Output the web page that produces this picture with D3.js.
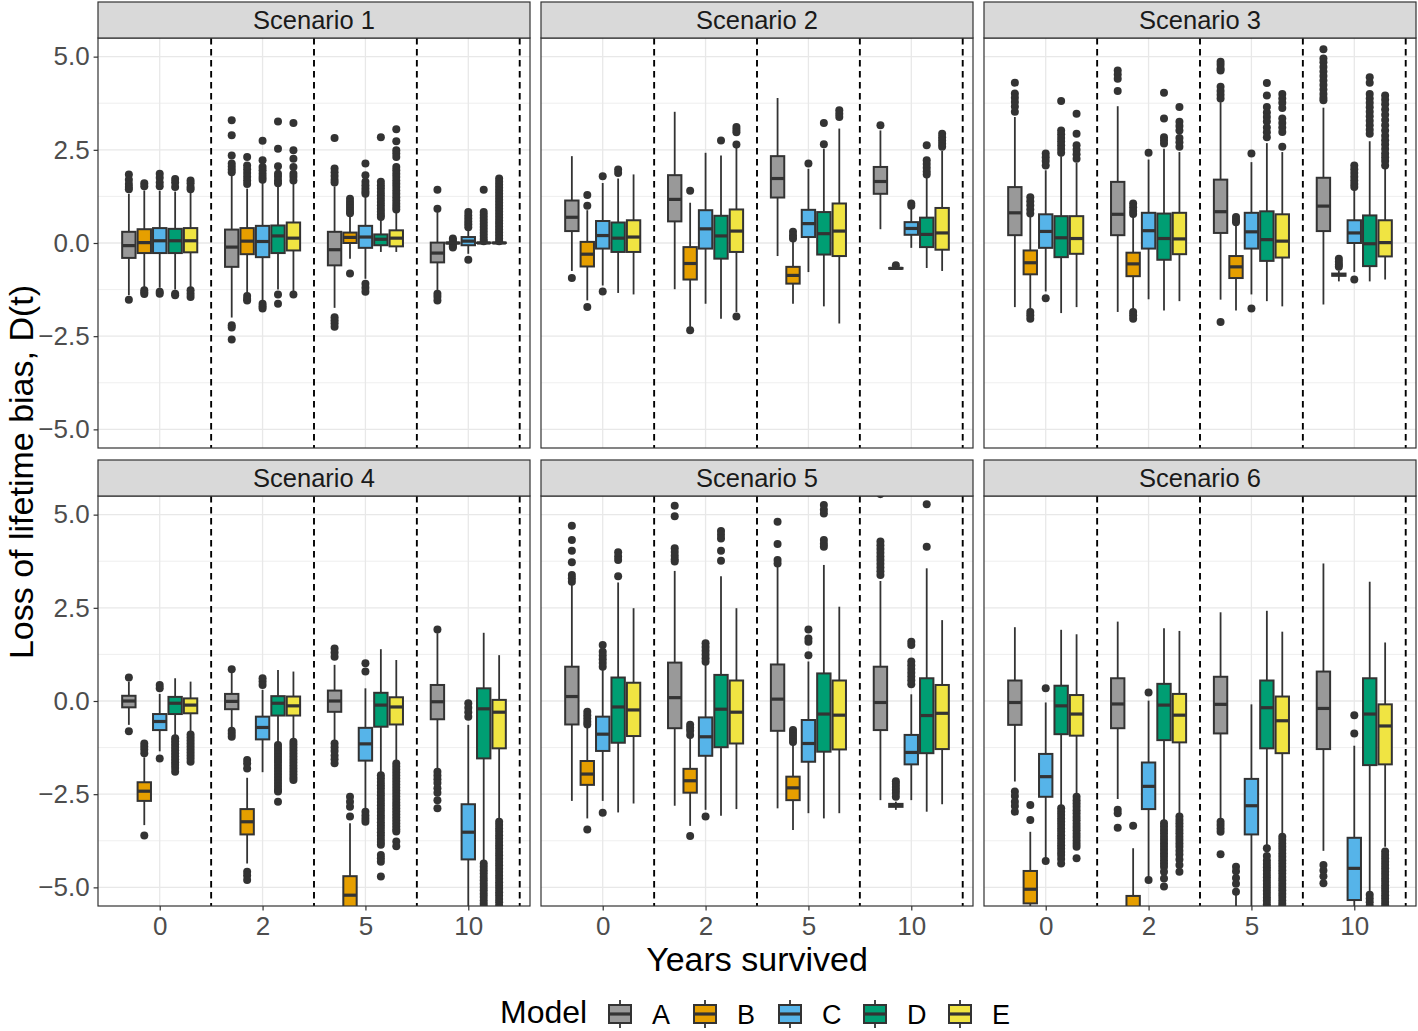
<!DOCTYPE html>
<html><head><meta charset="utf-8">
<script src="https://cdn.jsdelivr.net/npm/d3@7"></script>
<style>
body{margin:0;background:#fff}
svg{display:block}
text{font-family:"Liberation Sans",Arial,Helvetica,sans-serif}
</style>
</head><body>
<svg id="c" width="1418" height="1031"></svg>
<script>
// ---------------- DATA ----------------
const scenarios = ["Scenario 1","Scenario 2","Scenario 3","Scenario 4","Scenario 5","Scenario 6"];
const years = ["0","2","5","10"];
const models = ["A","B","C","D","E"];
const modelColors = ["#999999","#E69F00","#56B4E9","#009E73","#F0E442"];
const yTickValues = [-5,-2.5,0,2.5,5];
const yMinorValues = [-3.75,-1.25,1.25,3.75];

// each row: [lower whisker, Q1, median, Q3, upper whisker]; order: year 0 (A..E), year 2 (A..E), year 5, year 10
const s1Box = [
 [-1.40,-0.40,-0.07,0.30,1.32],[-1.23,-0.27,0.01,0.37,1.41],[-1.20,-0.27,0.06,0.40,1.40],[-1.25,-0.27,0.06,0.38,1.38],[-1.22,-0.25,0.06,0.40,1.36],
 [-2.00,-0.64,-0.11,0.36,1.82],[-1.36,-0.30,0.05,0.40,1.46],[-1.55,-0.38,0.04,0.46,1.64],[-1.25,-0.27,0.19,0.47,1.55],[-1.30,-0.20,0.13,0.55,1.59],
 [-1.74,-0.60,-0.18,0.30,1.52],[-0.42,0.00,0.15,0.28,0.74],[-0.96,-0.13,0.16,0.46,1.25],[-0.24,-0.06,0.10,0.23,0.63],[-0.24,-0.09,0.13,0.34,0.83],
 [-1.31,-0.52,-0.27,0.01,0.83],[-0.02,-0.01,0.00,0.01,0.02],[-0.29,-0.06,0.05,0.16,0.34],[-0.01,0.00,0.00,0.01,0.02],[-0.01,0.00,0.00,0.01,0.02]
];
const s1Out = [
 [1.84,1.70,1.58,1.50,1.44,-1.52],[1.60,1.52,-1.27,-1.33,-1.37],[1.86,1.75,1.62,1.52,-1.31,-1.36],[1.72,1.62,1.50,-1.36,-1.40],[1.68,1.60,1.50,1.44,-1.27,-1.36,-1.45],
 [3.29,2.89,2.35,2.13,2.05,1.97,1.90,-2.21,-2.27,-2.59],[2.31,2.08,1.98,1.88,1.78,1.68,1.58,-1.42,-1.50,-1.54],[2.74,2.22,2.04,1.95,1.86,1.77,1.70,-1.63,-1.70,-1.76],[3.26,2.53,2.06,1.86,1.78,1.68,1.60,-1.38,-1.63],[3.22,2.49,2.26,2.04,1.86,1.78,1.68,-1.38],
 [2.82,2.00,1.90,1.80,1.70,1.62,-1.99,-2.07,-2.15,-2.25],[1.19,1.10,1.02,0.94,0.86,0.80,-0.82],[2.13,1.82,1.64,1.55,1.46,1.38,1.32,-1.09,-1.20,-1.31],[2.84,1.64,1.55,1.46,1.37,1.28,1.19,1.10,1.01,0.92,0.84,0.76,0.70],[3.05,2.73,2.49,2.40,2.31,2.04,1.95,1.86,1.77,1.68,1.59,1.50,1.41,1.32,1.23,1.14,1.05,0.97,0.90],
 [1.43,0.92,-1.36,-1.44,-1.54],[0.12,0.08,0.04,-0.05,-0.09,-0.12],[0.83,0.74,0.66,0.58,0.50,0.42,-0.45],[1.43,0.83,0.75,0.67,0.59,0.51,0.43,0.35,0.27,0.19,0.11,0.05],[1.73,1.64,1.56,1.48,1.40,1.32,1.24,1.16,1.08,1.00,0.92,0.84,0.76,0.68,0.60,0.52,0.44,0.36,0.28,0.20,0.12,0.05]
];

const s2Box = [
 [-0.75,0.32,0.69,1.14,2.33],[-1.54,-0.63,-0.30,0.03,0.88],[-1.14,-0.15,0.20,0.59,1.61],[-1.34,-0.24,0.13,0.55,1.73],[-1.38,-0.24,0.16,0.61,1.84],
 [-1.24,0.58,1.17,1.82,3.52],[-2.25,-0.98,-0.55,-0.11,1.08],[-1.63,-0.15,0.38,0.88,2.42],[-2.03,-0.42,0.19,0.73,2.35],[-1.85,-0.24,0.32,0.90,2.55],
 [-0.35,1.22,1.73,2.33,3.89],[-1.63,-1.09,-0.87,-0.64,0.05],[-0.78,0.16,0.52,0.89,1.99],[-1.70,-0.31,0.25,0.83,2.53],[-2.16,-0.35,0.32,1.06,3.07],
 [0.37,1.32,1.65,2.04,3.02],[-0.70,-0.69,-0.68,-0.67,-0.66],[-0.13,0.22,0.39,0.56,0.92],[-0.67,-0.11,0.23,0.68,1.77],[-0.75,-0.18,0.27,0.94,2.47]
];
const s2Out = [
 [-0.94],[1.29,1.00,-1.72],[1.79,-1.30],[1.97,1.88],[],
 [],[1.40,-2.34],[],[2.75],[3.11,3.04,2.97,2.64,-1.97],
 [],[0.30,0.20,0.12],[2.13],[3.22,2.65],[3.56,3.47,3.38],
 [3.16],[-0.60],[1.06,1.00],[2.62,2.22,2.12,2.02,1.92,1.84],[2.93,2.84,2.75,2.66,2.58]
];

const s3Box = [
 [-1.72,0.21,0.81,1.50,3.38],[-1.80,-0.84,-0.53,-0.20,0.70],[-1.30,-0.13,0.31,0.77,1.95],[-1.88,-0.38,0.14,0.72,2.33],[-1.72,-0.29,0.12,0.72,2.15],
 [-1.85,0.21,0.77,1.64,3.67],[-1.80,-0.89,-0.56,-0.26,0.70],[-1.51,-0.15,0.33,0.81,2.24],[-1.81,-0.45,0.12,0.79,2.53],[-1.56,-0.30,0.11,0.81,2.44],
 [-1.52,0.27,0.84,1.70,3.78],[-1.81,-0.94,-0.64,-0.35,0.52],[-1.38,-0.15,0.30,0.81,2.17],[-1.56,-0.48,0.09,0.85,2.68],[-1.70,-0.39,0.05,0.77,2.44],
 [-1.65,0.32,0.99,1.75,3.63],[-1.03,-0.88,-0.85,-0.82,-0.74],[-0.78,0.00,0.27,0.61,1.43],[-1.03,-0.62,-0.02,0.74,2.73],[-0.98,-0.36,0.01,0.61,1.99]
];
const s3Out = [
 [4.30,4.01,3.90,3.78,3.66,3.52],[1.23,1.12,1.01,0.90,0.79,-1.85,-1.94,-2.03],[2.40,2.30,2.20,2.08,-1.48],[3.81,3.02,2.92,2.82,2.72,2.62,2.52,2.42],[3.47,2.93,2.62,2.50,2.38,2.26],
 [4.63,4.52,4.41,4.08],[1.06,0.96,0.86,0.78,-1.85,-1.94,-2.03],[2.42],[4.03,3.34,2.84,2.76,2.67],[3.65,3.25,3.14,3.02,2.82,2.70,2.58],
 [4.86,4.78,4.68,4.63,4.19,4.08,3.98,3.88,-2.12],[0.70,0.62,0.56],[2.40,-1.76],[4.29,3.96,3.65,3.50,3.38,3.26,3.10,2.97,2.84],[4.00,3.88,3.76,3.62,3.34,3.22,3.10,2.98,2.58],
 [5.20,4.95,4.85,4.72,4.60,4.48,4.36,4.24,4.12,4.00,3.90,3.83],[-0.42,-0.50,-0.58,-0.64],[2.08,1.98,1.88,1.78,1.68,1.58,1.50,-0.98],[4.45,4.30,4.00,3.88,3.76,3.64,3.52,3.40,3.28,3.16,3.04,2.93],[3.96,3.84,3.72,3.58,3.44,3.30,3.16,3.02,2.88,2.76,2.64,2.52,2.40,2.30,2.20,2.08]
];

const s4Box = [
 [-0.64,-0.17,0.00,0.14,0.52],[-3.33,-2.68,-2.42,-2.18,-1.51],[-1.35,-0.78,-0.55,-0.35,0.19],[-0.96,-0.35,-0.06,0.11,0.61],[-0.87,-0.33,-0.11,0.07,0.52],
 [-0.72,-0.22,-0.01,0.19,0.80],[-4.36,-3.58,-3.24,-2.90,-2.06],[-1.91,-1.03,-0.71,-0.42,0.30],[-1.14,-0.39,-0.06,0.13,0.83],[-1.05,-0.39,-0.13,0.12,0.79],
 [-1.05,-0.29,0.00,0.28,0.97],[-7.00,-5.80,-5.21,-4.70,-3.28],[-2.92,-1.60,-1.15,-0.72,0.34],[-1.94,-0.69,-0.11,0.22,1.39],[-1.63,-0.63,-0.16,0.10,1.10],
 [-1.81,-0.49,-0.02,0.43,1.82],[-8.00,-7.50,-7.00,-6.50,-6.00],[-6.50,-4.25,-3.52,-2.77,-0.64],[-4.31,-1.54,-0.21,0.34,1.83],[-3.15,-1.27,-0.30,0.03,1.23]
];
const s4Out = [
 [0.63,-0.81],[-1.14,-1.22,-1.30,-1.40,-3.61],[0.43,0.34,-1.54],[-1.00,-1.08,-1.16,-1.24,-1.32,-1.40,-1.48,-1.56,-1.64,-1.72,-1.80,-1.90],[-0.90,-0.98,-1.06,-1.14,-1.22,-1.30,-1.38,-1.46,-1.54,-1.63],
 [0.85,-0.80,-0.88,-0.96],[-1.58,-1.68,-1.81,-4.58,-4.68,-4.80],[0.61,0.52,0.43],[-1.18,-1.26,-1.34,-1.42,-1.50,-1.58,-1.66,-1.74,-1.82,-1.90,-1.98,-2.06,-2.14,-2.22,-2.30,-2.38,-2.43,-2.70],[-1.09,-1.17,-1.25,-1.33,-1.41,-1.49,-1.57,-1.65,-1.73,-1.81,-1.89,-1.97,-2.05,-2.12],
 [1.41,1.30,1.19,-1.14,-1.24,-1.34,-1.46,-1.56,-1.67],[-2.57,-2.70,-2.84,-3.10],[1.01,0.79,-2.97,-3.07,-3.16,-3.24],[-1.99,-2.08,-2.17,-2.26,-2.35,-2.44,-2.53,-2.62,-2.71,-2.80,-2.89,-2.98,-3.07,-3.16,-3.25,-3.34,-3.43,-3.52,-3.61,-3.70,-3.78,-3.86,-4.13,-4.22,-4.31,-4.71],[-1.68,-1.76,-1.84,-1.92,-2.00,-2.08,-2.16,-2.24,-2.32,-2.40,-2.48,-2.56,-2.64,-2.72,-2.80,-2.88,-2.96,-3.04,-3.12,-3.20,-3.28,-3.36,-3.44,-3.50,-3.77,-3.90],
 [1.92,-1.90,-2.00,-2.10,-2.20,-2.34,-2.46,-2.66,-2.88],[],[-0.06,-0.18,-0.30,-0.42],[-4.36,-4.45,-4.54,-4.63,-4.72,-4.81,-4.90,-4.99,-5.08,-5.17,-5.26,-5.35,-5.44,-5.53,-5.62],[-3.24,-3.33,-3.42,-3.51,-3.60,-3.69,-3.78,-3.87,-3.96,-4.05,-4.14,-4.23,-4.32,-4.41,-4.50,-4.59,-4.68,-4.77,-4.86,-4.95,-5.04,-5.13,-5.22,-5.31,-5.40,-5.49,-5.58]
];

const s5Box = [
 [-2.68,-0.63,0.12,0.92,3.13],[-3.15,-2.25,-1.96,-1.61,-0.69],[-2.68,-1.34,-0.89,-0.42,0.88],[-2.99,-1.12,-0.16,0.63,3.18],[-2.75,-0.94,-0.24,0.49,2.49],
 [-2.81,-0.73,0.09,1.03,3.49],[-3.35,-2.46,-2.14,-1.82,-0.98],[-2.92,-1.47,-0.96,-0.44,0.98],[-3.08,-1.24,-0.22,0.70,3.35],[-2.90,-1.14,-0.30,0.55,2.49],
 [-2.88,-0.80,0.05,0.98,3.60],[-3.46,-2.66,-2.33,-2.03,-1.18],[-3.01,-1.63,-1.14,-0.51,1.06],[-3.15,-1.36,-0.35,0.74,3.65],[-3.01,-1.30,-0.38,0.55,2.53],
 [-2.66,-0.78,-0.04,0.92,3.22],[-2.92,-2.84,-2.80,-2.76,-2.70],[-2.66,-1.70,-1.38,-0.91,0.18],[-2.97,-1.40,-0.39,0.61,3.56],[-2.77,-1.29,-0.33,0.43,2.17]
];
const s5Out = [
 [4.70,4.32,4.03,3.72,3.38,3.29,3.20],[-0.29,-0.38,-0.47,-0.56,-0.63,-3.45],[1.50,1.32,1.22,1.12,1.02,0.92,-3.00],[3.99,3.88,3.78,3.35],[],
 [5.24,4.96,4.10,4.00,3.90,3.80,3.74],[-0.64,-0.72,-0.80,-0.91,-3.62],[1.55,1.45,1.35,1.25,1.15,1.05,-3.10],[4.56,4.46,4.36,4.03,3.76],[],
 [4.81,4.21,3.78,3.69],[-0.78,-0.86,-0.94,-1.02,-1.10],[1.92,1.68,1.59,1.23],[5.26,5.13,5.03,4.32,4.22,4.14],[],
 [5.55,4.28,4.18,4.08,3.98,3.88,3.78,3.68,3.58,3.48,3.38],[-2.15,-2.23,-2.31,-2.39,-2.47,-2.57],[1.59,1.50,1.06,0.96,0.86,0.76,0.66,0.56,0.45],[5.28,4.14],[]
];

const s6Box = [
 [-2.16,-0.64,-0.04,0.55,1.98],[-7.00,-5.43,-5.05,-4.56,-3.51],[-4.22,-2.57,-2.03,-1.42,-0.04],[-2.79,-0.89,-0.13,0.41,1.91],[-2.52,-0.93,-0.35,0.16,1.79],
 [-2.63,-0.73,-0.08,0.61,2.13],[-7.00,-6.20,-5.80,-5.23,-3.95],[-4.76,-2.90,-2.29,-1.65,0.01],[-3.19,-1.05,-0.11,0.46,1.95],[-3.01,-1.11,-0.38,0.19,1.88],
 [-3.15,-0.87,-0.09,0.65,2.38],[-8.00,-7.00,-6.50,-6.00,-5.20],[-7.00,-3.58,-2.81,-2.09,-0.09],[-3.91,-1.27,-0.18,0.55,2.42],[-3.60,-1.40,-0.53,0.12,1.86],
 [-4.02,-1.29,-0.20,0.79,3.69],[-9.00,-8.50,-8.00,-7.50,-7.00],[-7.00,-5.34,-4.49,-3.67,-1.20],[-5.12,-1.72,-0.35,0.61,3.20],[-3.91,-1.70,-0.67,-0.09,1.57]
];
const s6Out = [
 [-2.43,-2.55,-2.70,-2.82,-2.97],[-2.79,-3.19],[0.34,-4.29],[-2.88,-2.97,-3.06,-3.15,-3.24,-3.33,-3.42,-3.51,-3.60,-3.69,-3.78,-3.87,-3.96,-4.05,-4.13,-4.24,-4.36],[-2.57,-2.66,-2.75,-2.84,-2.93,-3.02,-3.11,-3.20,-3.29,-3.38,-3.47,-3.56,-3.65,-3.74,-3.83,-3.91,-4.22],
 [-2.92,-3.01,-3.40],[-3.35],[0.23,-4.80],[-3.28,-3.37,-3.46,-3.55,-3.64,-3.73,-3.82,-3.91,-4.00,-4.09,-4.18,-4.27,-4.36,-4.45,-4.58,-4.76,-4.98],[-3.10,-3.19,-3.28,-3.37,-3.46,-3.55,-3.64,-3.73,-3.82,-3.91,-4.02,-4.12,-4.25,-4.40,-4.58],
 [-3.24,-3.33,-3.42,-3.51,-4.11],[-4.45,-4.57,-4.75,-4.90,-5.12],[],[-3.95,-4.16,-4.28,-4.37,-4.46,-4.55,-4.64,-4.73,-4.82,-4.91,-5.00,-5.09,-5.18,-5.27,-5.36,-5.45,-5.54],[-3.64,-3.73,-3.82,-3.91,-4.00,-4.09,-4.18,-4.27,-4.36,-4.45,-4.54,-4.63,-4.72,-4.81,-4.90,-4.99,-5.08,-5.17,-5.26,-5.35,-5.44,-5.53],
 [-4.40,-4.55,-4.70,-4.89],[],[-0.38,-0.87],[-5.20,-5.30,-5.40,-5.50],[-4.04,-4.13,-4.22,-4.31,-4.40,-4.49,-4.58,-4.67,-4.76,-4.85,-4.94,-5.03,-5.12,-5.21,-5.30,-5.39,-5.48,-5.57]
];

const boxData = [s1Box,s2Box,s3Box,s4Box,s5Box,s6Box];
const outData = [s1Out,s2Out,s3Out,s4Out,s5Out,s6Out];

// ---------------- LAYOUT ----------------
const svg = d3.select("#c");
const colX = [[98,530],[541,973],[984,1416]];
const rows = [{strip:[2,38],plot:[38,448]},{strip:[460,496],plot:[496,906]}];
const LINE = "#333333";
const fmt = d3.format(".1f");

scenarios.forEach((name, si) => {
  const col = si % 3, row = Math.floor(si / 3);
  const [x0, x1] = colX[col];
  const [y0, y1] = rows[row].plot;
  const [sy0, sy1] = rows[row].strip;
  const x = d3.scalePoint().domain(years).range([x0, x1]).padding(0.6);
  const y = d3.scaleLinear().domain([-5.5, 5.5]).range([y1, y0]);
  const step = x.step();
  const g = svg.append("g");

  g.append("rect").attr("x", x0).attr("y", y0).attr("width", x1 - x0).attr("height", y1 - y0).attr("fill", "#fff");
  // grid
  g.selectAll(".gmin").data(yMinorValues).join("line")
    .attr("x1", x0).attr("x2", x1).attr("y1", d => y(d)).attr("y2", d => y(d))
    .attr("stroke", "#ededed").attr("stroke-width", 0.9);
  g.selectAll(".gmaj").data(yTickValues).join("line")
    .attr("x1", x0).attr("x2", x1).attr("y1", d => y(d)).attr("y2", d => y(d))
    .attr("stroke", "#e8e8e8").attr("stroke-width", 1.3);
  g.selectAll(".gx").data(years).join("line")
    .attr("x1", d => x(d)).attr("x2", d => x(d)).attr("y1", y0).attr("y2", y1)
    .attr("stroke", "#e8e8e8").attr("stroke-width", 1.3);

  const clipId = "clip" + si;
  svg.append("clipPath").attr("id", clipId).append("rect")
    .attr("x", x0).attr("y", y0).attr("width", x1 - x0).attr("height", y1 - y0);
  const pg = g.append("g").attr("clip-path", `url(#${clipId})`);

  // dashed separators
  pg.selectAll(".dash").data(years).join("line")
    .attr("x1", d => x(d) + step / 2).attr("x2", d => x(d) + step / 2)
    .attr("y1", y0).attr("y2", y1)
    .attr("stroke", "#000").attr("stroke-width", 1.9).attr("stroke-dasharray", "6.5,4.5");

  const bw = 0.13 * step;
  boxData[si].forEach((s, k) => {
    const yi = Math.floor(k / 5), mi = k % 5;
    const cx = x(years[yi]) + (mi - 2) * 0.15 * step;
    const [lo, q1, med, q3, hi] = s;
    const bg = pg.append("g");
    bg.selectAll("circle").data(outData[si][k]).join("circle")
      .attr("cx", cx).attr("cy", d => y(d)).attr("r", 4).attr("fill", LINE);
    bg.append("line").attr("x1", cx).attr("x2", cx).attr("y1", y(hi)).attr("y2", y(q3))
      .attr("stroke", LINE).attr("stroke-width", 1.8);
    bg.append("line").attr("x1", cx).attr("x2", cx).attr("y1", y(q1)).attr("y2", y(lo))
      .attr("stroke", LINE).attr("stroke-width", 1.8);
    bg.append("rect").attr("x", cx - bw / 2).attr("width", bw)
      .attr("y", y(q3)).attr("height", Math.max(0, y(q1) - y(q3)))
      .attr("fill", modelColors[mi]).attr("stroke", LINE).attr("stroke-width", 2);
    bg.append("line").attr("x1", cx - bw / 2).attr("x2", cx + bw / 2).attr("y1", y(med)).attr("y2", y(med))
      .attr("stroke", LINE).attr("stroke-width", 3.2);
  });

  // panel border
  g.append("rect").attr("x", x0).attr("y", y0).attr("width", x1 - x0).attr("height", y1 - y0)
    .attr("fill", "none").attr("stroke", LINE).attr("stroke-width", 1.2);
  // strip
  g.append("rect").attr("x", x0).attr("y", sy0).attr("width", x1 - x0).attr("height", sy1 - sy0)
    .attr("fill", "#d9d9d9").attr("stroke", LINE).attr("stroke-width", 1.2);
  g.append("text").attr("x", (x0 + x1) / 2).attr("y", (sy0 + sy1) / 2).attr("dy", "0.36em")
    .attr("text-anchor", "middle").attr("font-size", 25.5).attr("fill", "#1a1a1a").text(name);

  // axes
  if (col === 0) {
    const ax = g.append("g").attr("transform", `translate(${x0},0)`)
      .call(d3.axisLeft(y).tickValues(yTickValues).tickFormat(fmt).tickSize(4.4).tickPadding(4));
    ax.select(".domain").remove();
    ax.selectAll("line").attr("stroke", LINE).attr("stroke-width", 1.2);
    ax.selectAll("text").attr("font-size", 26).attr("fill", "#4d4d4d").attr("font-family", "'Liberation Sans',Arial,sans-serif");
  }
  if (row === 1) {
    const ax = g.append("g").attr("transform", `translate(0,${y1})`)
      .call(d3.axisBottom(x).tickSize(4.4).tickPadding(6));
    ax.select(".domain").remove();
    ax.selectAll("line").attr("stroke", LINE).attr("stroke-width", 1.2);
    ax.selectAll("text").attr("font-size", 26).attr("fill", "#4d4d4d").attr("font-family", "'Liberation Sans',Arial,sans-serif");
  }
});

// axis titles
svg.append("text").attr("x", 757).attr("y", 971).attr("text-anchor", "middle")
  .attr("font-size", 34).attr("fill", "#000").text("Years survived");
svg.append("text").attr("transform", "translate(33,472) rotate(-90)").attr("text-anchor", "middle")
  .attr("font-size", 34).attr("fill", "#000").text("Loss of lifetime bias, D(t)");

// legend
const lg = svg.append("g");
lg.append("text").attr("x", 500).attr("y", 1023).attr("font-size", 32).attr("fill", "#000").text("Model");
const keyX = d3.scalePoint().domain(models).range([620, 960]);
models.forEach((m, i) => {
  const cx = keyX(m);
  lg.append("line").attr("x1", cx).attr("x2", cx).attr("y1", 1000).attr("y2", 1028).attr("stroke", LINE).attr("stroke-width", 1.8);
  lg.append("rect").attr("x", cx - 11).attr("y", 1005).attr("width", 22).attr("height", 18)
    .attr("fill", modelColors[i]).attr("stroke", LINE).attr("stroke-width", 2);
  lg.append("line").attr("x1", cx - 11).attr("x2", cx + 11).attr("y1", 1014).attr("y2", 1014).attr("stroke", LINE).attr("stroke-width", 3.2);
  lg.append("text").attr("x", cx + 32).attr("y", 1024).attr("font-size", 27).attr("fill", "#000").text(m);
});
</script>
</body></html>
